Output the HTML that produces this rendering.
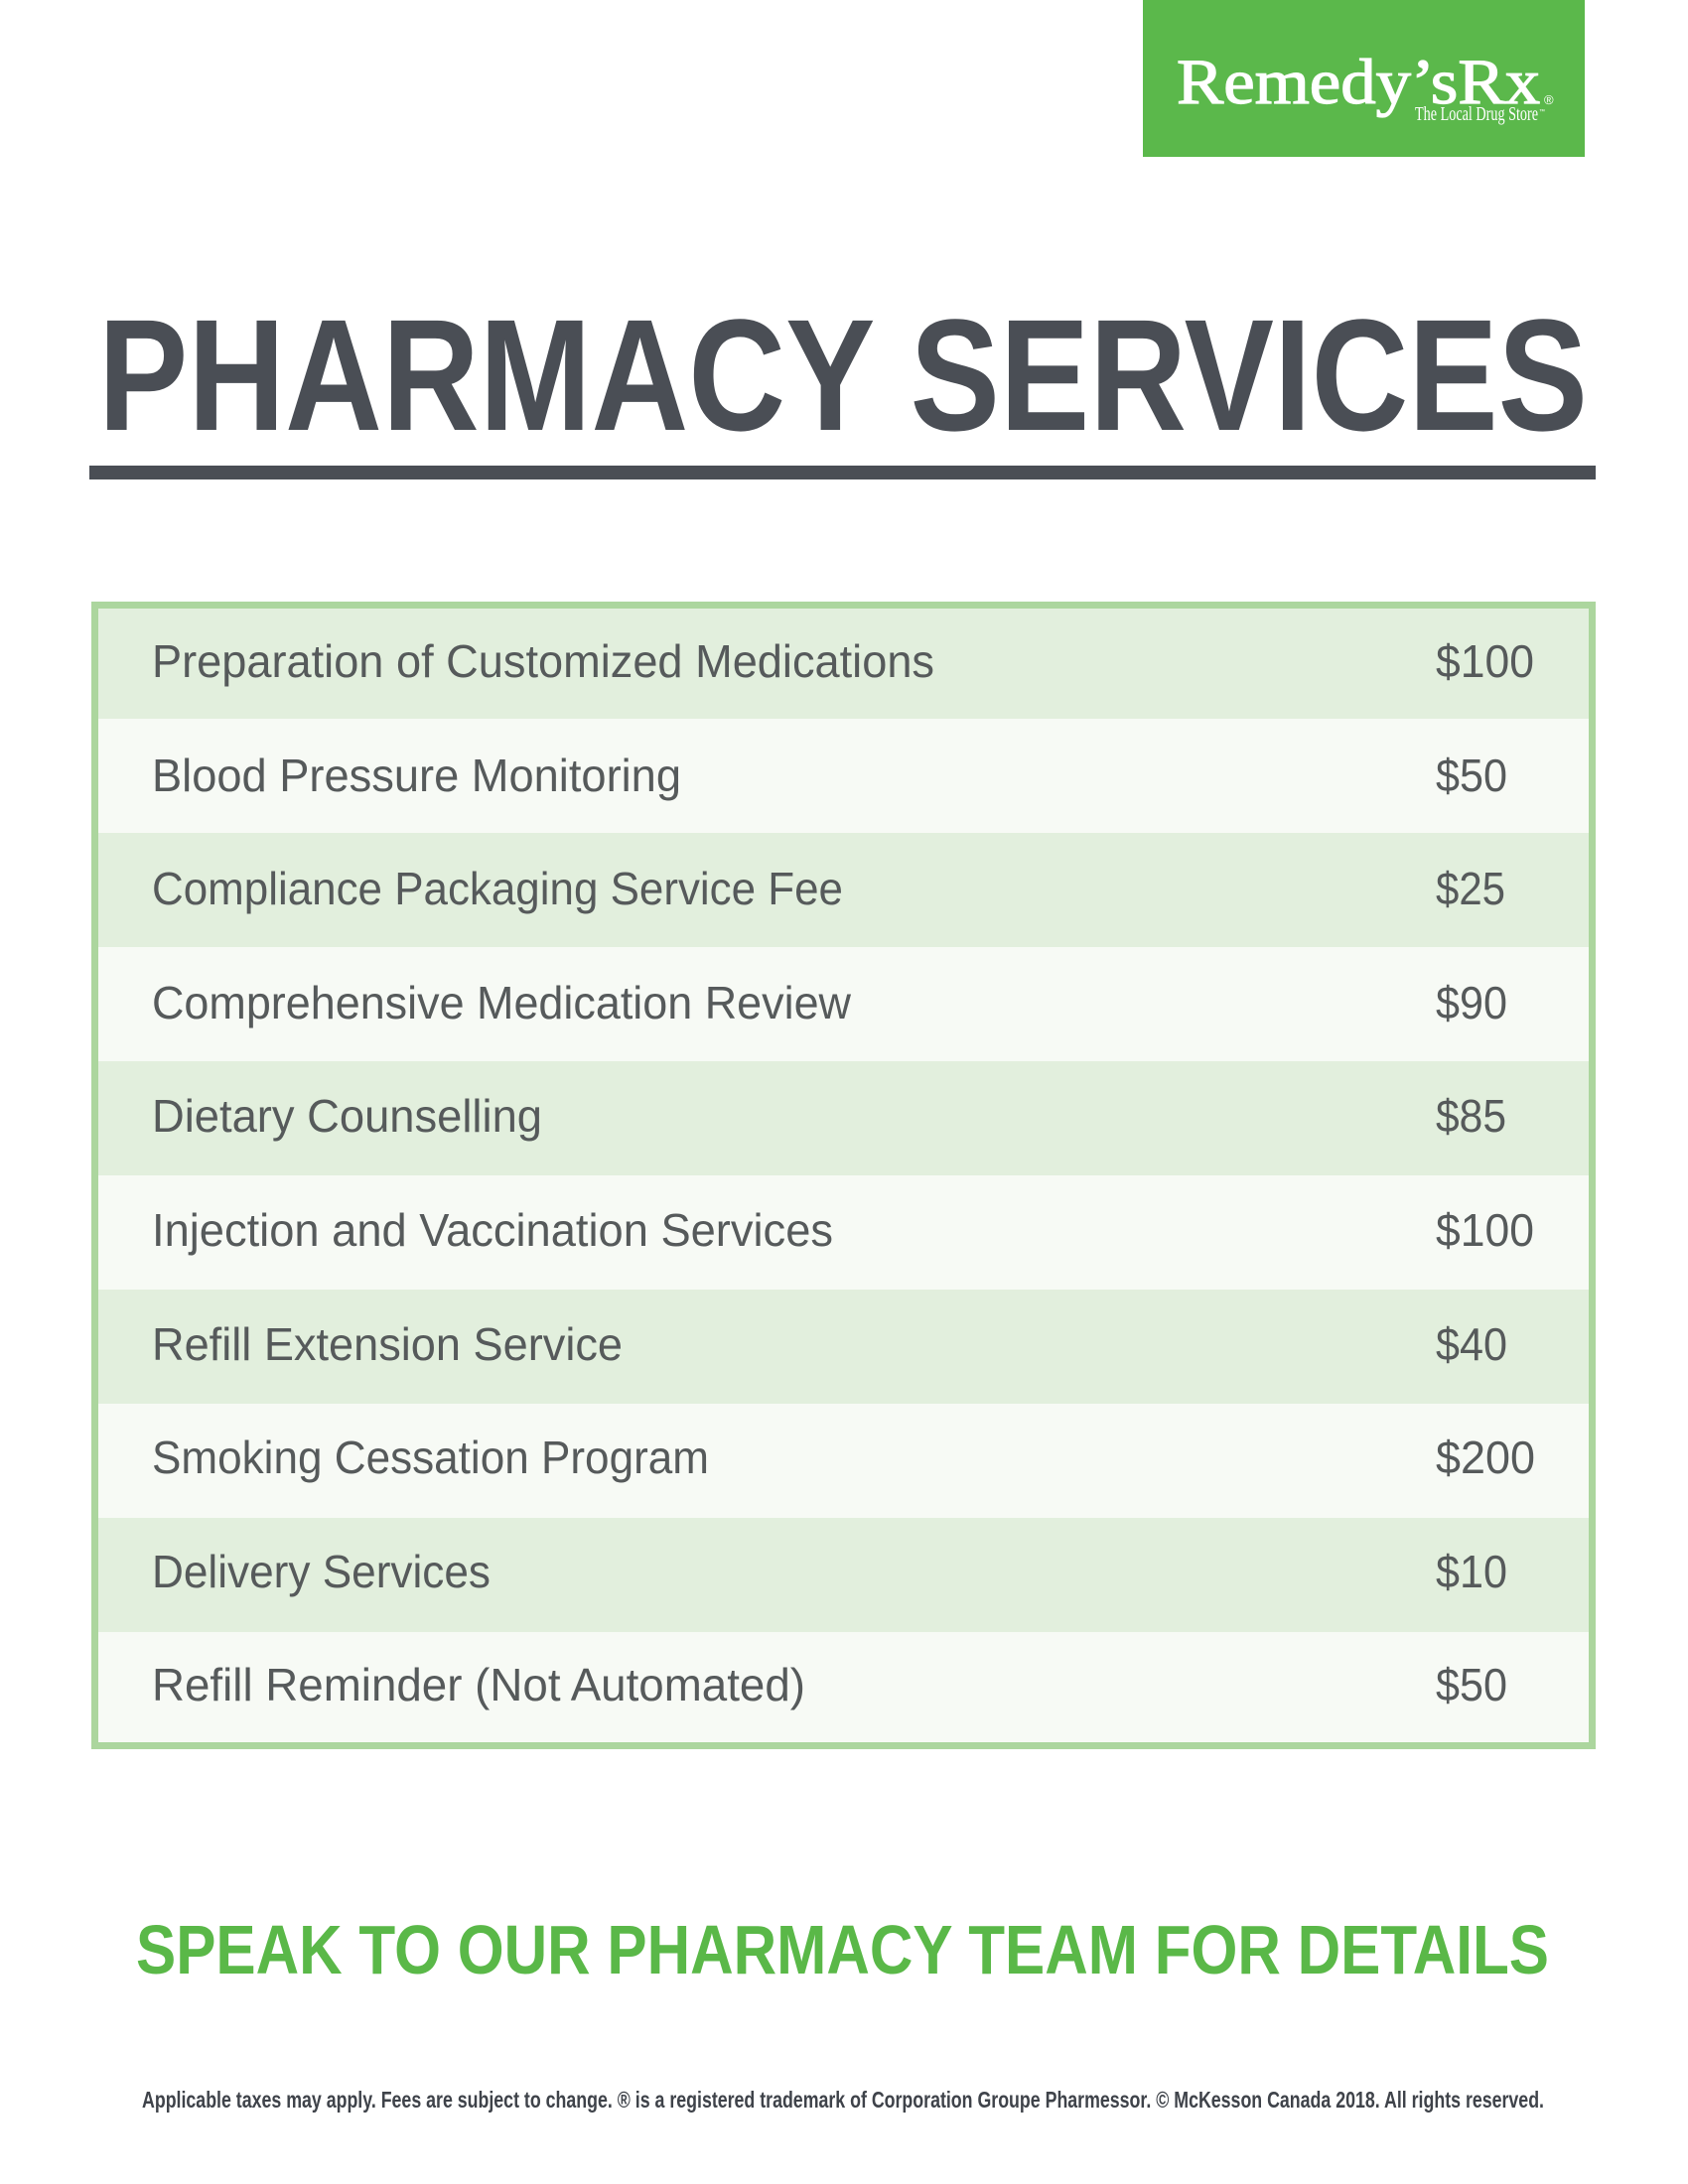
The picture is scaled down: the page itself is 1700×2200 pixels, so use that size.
<!DOCTYPE html>
<html>
<head>
<meta charset="utf-8">
<style>
  html, body { margin:0; padding:0; background:#ffffff; }
  body { width:1700px; height:2200px; overflow:hidden; }
  svg { display:block; }
</style>
</head>
<body>
<svg width="1700" height="2200" viewBox="0 0 1700 2200" xmlns="http://www.w3.org/2000/svg">
  <rect x="0" y="0" width="1700" height="2200" fill="#ffffff"/>

  <!-- Logo -->
  <rect x="1151" y="0" width="445" height="158" fill="#5bb84b"/>
  <text x="1185" y="104" font-family="'Liberation Serif', serif" font-size="65" fill="#ffffff" stroke="#ffffff" stroke-width="1.2" textLength="366" lengthAdjust="spacingAndGlyphs">Remedy’sRx</text>
  <text x="1555" y="105" font-family="'Liberation Sans', sans-serif" font-size="13" fill="#ffffff">®</text>
  <text x="1425" y="121" font-family="'Liberation Serif', serif" font-size="20" fill="#ffffff" textLength="124" lengthAdjust="spacingAndGlyphs">The Local Drug Store</text>
  <text x="1550" y="114" font-family="'Liberation Sans', sans-serif" font-size="6" fill="#ffffff">™</text>

  <!-- Title -->
  <text x="99" y="433" font-family="'Liberation Sans', sans-serif" font-weight="bold" font-size="160" fill="#4a4e55" textLength="1500" lengthAdjust="spacingAndGlyphs">PHARMACY SERVICES</text>
  <rect x="90" y="469" width="1517" height="14" fill="#4a4e55"/>

  <!-- Table rows -->
  <rect x="92" y="609" width="1515" height="115" fill="#e2efdd"/>
  <rect x="92" y="724" width="1515" height="115" fill="#f7faf5"/>
  <rect x="92" y="839" width="1515" height="115" fill="#e2efdd"/>
  <rect x="92" y="954" width="1515" height="115" fill="#f7faf5"/>
  <rect x="92" y="1069" width="1515" height="115" fill="#e2efdd"/>
  <rect x="92" y="1184" width="1515" height="115" fill="#f7faf5"/>
  <rect x="92" y="1299" width="1515" height="115" fill="#e2efdd"/>
  <rect x="92" y="1414" width="1515" height="115" fill="#f7faf5"/>
  <rect x="92" y="1529" width="1515" height="115" fill="#e2efdd"/>
  <rect x="92" y="1644" width="1515" height="118" fill="#f7faf5"/>
  <rect x="95.5" y="609.5" width="1508" height="1149" fill="none" stroke="#acd69e" stroke-width="7"/>

  <g font-family="'Liberation Sans', sans-serif" font-size="46" fill="#565a5b">
    <text x="153" y="682" textLength="788" lengthAdjust="spacingAndGlyphs">Preparation of Customized Medications</text>
    <text x="1446" y="682" textLength="99" lengthAdjust="spacingAndGlyphs">$100</text>

    <text x="153" y="797" textLength="533" lengthAdjust="spacingAndGlyphs">Blood Pressure Monitoring</text>
    <text x="1446" y="797" textLength="72" lengthAdjust="spacingAndGlyphs">$50</text>

    <text x="153" y="911" textLength="696" lengthAdjust="spacingAndGlyphs">Compliance Packaging Service Fee</text>
    <text x="1446" y="911" textLength="70" lengthAdjust="spacingAndGlyphs">$25</text>

    <text x="153" y="1026" textLength="704" lengthAdjust="spacingAndGlyphs">Comprehensive Medication Review</text>
    <text x="1446" y="1026" textLength="72" lengthAdjust="spacingAndGlyphs">$90</text>

    <text x="153" y="1140" textLength="393" lengthAdjust="spacingAndGlyphs">Dietary Counselling</text>
    <text x="1446" y="1140" textLength="71" lengthAdjust="spacingAndGlyphs">$85</text>

    <text x="153" y="1255" textLength="686" lengthAdjust="spacingAndGlyphs">Injection and Vaccination Services</text>
    <text x="1446" y="1255" textLength="99" lengthAdjust="spacingAndGlyphs">$100</text>

    <text x="153" y="1370" textLength="474" lengthAdjust="spacingAndGlyphs">Refill Extension Service</text>
    <text x="1446" y="1370" textLength="72" lengthAdjust="spacingAndGlyphs">$40</text>

    <text x="153" y="1484" textLength="561" lengthAdjust="spacingAndGlyphs">Smoking Cessation Program</text>
    <text x="1446" y="1484" textLength="100" lengthAdjust="spacingAndGlyphs">$200</text>

    <text x="153" y="1599" textLength="341" lengthAdjust="spacingAndGlyphs">Delivery Services</text>
    <text x="1446" y="1599" textLength="72" lengthAdjust="spacingAndGlyphs">$10</text>

    <text x="153" y="1713" textLength="658" lengthAdjust="spacingAndGlyphs">Refill Reminder (Not Automated)</text>
    <text x="1446" y="1713" textLength="72" lengthAdjust="spacingAndGlyphs">$50</text>
  </g>

  <!-- Call to action -->
  <text x="137" y="1988" font-family="'Liberation Sans', sans-serif" font-weight="bold" font-size="70" fill="#5ab848" textLength="1423" lengthAdjust="spacingAndGlyphs">SPEAK TO OUR PHARMACY TEAM FOR DETAILS</text>

  <!-- Footer -->
  <text x="143" y="2123" font-family="'Liberation Sans', sans-serif" font-weight="bold" font-size="23" fill="#3f434a" textLength="1412" lengthAdjust="spacingAndGlyphs">Applicable taxes may apply. Fees are subject to change. ® is a registered trademark of Corporation Groupe Pharmessor. © McKesson Canada 2018. All rights reserved.</text>
</svg>
</body>
</html>
